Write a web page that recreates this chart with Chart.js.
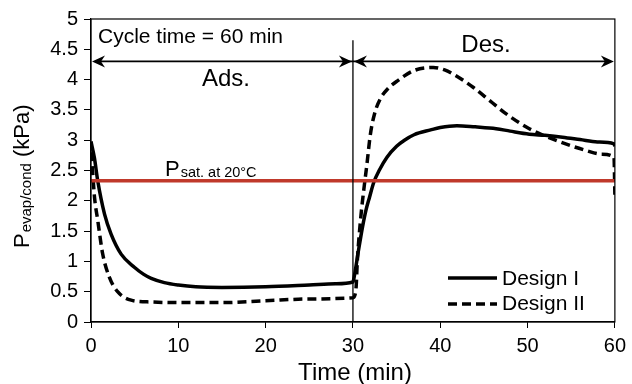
<!DOCTYPE html>
<html>
<head>
<meta charset="utf-8">
<script src="https://cdn.jsdelivr.net/npm/chart.js@4/dist/chart.umd.min.js"></script>
<style>
  html, body { margin: 0; padding: 0; background: #fff; }
  #wrap { width: 632px; height: 384px; }
</style>
</head>
<body>
<div id="wrap"><canvas id="c" width="632" height="384"></canvas></div>
<script>
// ================= DATA =================
const d1Time = [0, 0.4, 0.77, 1.55, 2.3, 3.45, 5, 6, 6.9, 8.4, 10, 12, 15, 20, 25, 28, 30,
  30.15, 30.6, 31.1, 31.5, 31.9, 32.4, 33, 33.9, 35, 35.9, 37, 38.9, 40, 41.9, 44, 46.4, 48, 50.2, 52, 54, 56, 58, 59.9, 60];
const d1Press = [2.98, 2.7, 2.33, 1.78, 1.45, 1.12, 0.9, 0.79, 0.72, 0.65, 0.61, 0.58, 0.57, 0.58, 0.61, 0.63, 0.66,
  0.75, 1.15, 1.57, 1.85, 2.06, 2.31, 2.5, 2.72, 2.9, 3.0, 3.09, 3.17, 3.21, 3.24, 3.22, 3.19, 3.15, 3.1, 3.08, 3.05, 3.01, 2.97, 2.94, 2.9];

const d2Time = [0, 0.2, 0.4, 0.77, 1.33, 2.1, 3.05, 4.6, 6.9, 10, 15, 20, 25, 30,
  30.35, 30.5, 30.9, 31.3, 31.6, 32, 32.5, 33.2, 34, 35.1, 37, 39.2, 40.5, 41.5, 43.8, 45.7, 47.6, 50.2, 53.2, 56.7, 58.5, 59.9, 60];
const d2Press = [2.8, 2.45, 2.06, 1.68, 1.13, 0.74, 0.5, 0.36, 0.33, 0.32, 0.32, 0.35, 0.38, 0.40,
  0.55, 1.0, 1.73, 2.25, 2.6, 3.1, 3.45, 3.7, 3.85, 3.98, 4.15, 4.2, 4.16, 4.09, 3.87, 3.65, 3.43, 3.19, 3.0, 2.83, 2.77, 2.72, 2.1];

const satTime = [0, 60];
const satPress = [2.33, 2.33];

const seriesNames = ["Design I", "Design II"];
const arrowY = 4.3;
const switchTime = 30;
const switchTop = 4.65;

const FONT = "'Liberation Sans', Arial, sans-serif";

function pts(xs, ys) { return xs.map((x, i) => ({ x: x, y: ys[i] })); }

// ================= ANNOTATIONS =================
function arrowHead(ctx, x, y, dir) {
  // dir = -1 pointing left, 1 pointing right
  ctx.beginPath();
  ctx.moveTo(x, y);
  ctx.lineTo(x - dir * 13, y - 6);
  ctx.lineTo(x - dir * 9, y);
  ctx.lineTo(x - dir * 13, y + 6);
  ctx.closePath();
  ctx.fill();
}

const annot = {
  id: "annot",
  afterDatasetsDraw(chart) {
    const ctx = chart.ctx, a = chart.chartArea;
    const xs = chart.scales.x, ys = chart.scales.y;
    ctx.save();
    ctx.strokeStyle = "#000";
    ctx.fillStyle = "#000";

    // frame
    ctx.lineWidth = 1.2;
    ctx.strokeRect(a.left, a.top, a.right - a.left, a.bottom - a.top);

    // ads / des switch line
    const xm = xs.getPixelForValue(switchTime);
    ctx.lineWidth = 1.3;
    ctx.beginPath();
    ctx.moveTo(xm, ys.getPixelForValue(switchTop));
    ctx.lineTo(xm, a.bottom);
    ctx.stroke();

    // arrows
    const ya = ys.getPixelForValue(arrowY);
    const x0 = xs.getPixelForValue(0), x1 = xs.getPixelForValue(60);
    ctx.lineWidth = 1.8;
    ctx.beginPath();
    ctx.moveTo(x0 + 4, ya); ctx.lineTo(x1 - 4, ya);
    ctx.stroke();
    arrowHead(ctx, x0 + 1, ya, -1);
    arrowHead(ctx, xm - 1, ya, 1);
    arrowHead(ctx, xm + 1, ya, -1);
    arrowHead(ctx, x1 - 1, ya, 1);

    // texts
    ctx.textBaseline = "alphabetic";
    ctx.textAlign = "left";
    ctx.font = "21px " + FONT;
    ctx.fillText("Cycle time = 60 min", 98, 43);
    ctx.textAlign = "center";
    ctx.font = "24px " + FONT;
    ctx.fillText("Ads.", 226, 86);
    ctx.fillText("Des.", 486, 52);

    // P sat label
    ctx.textAlign = "left";
    ctx.font = "22px " + FONT;
    ctx.fillText("P", 165, 176);
    const pw = ctx.measureText("P").width;
    ctx.font = "14.5px " + FONT;
    ctx.fillText("sat. at 20°C", 165 + pw + 1, 177);

    // legend
    const lx0 = 448, lx1 = 497;
    ctx.lineWidth = 3.5;
    ctx.beginPath(); ctx.moveTo(lx0, 278); ctx.lineTo(lx1, 278); ctx.stroke();
    ctx.setLineDash([9, 5]);
    ctx.beginPath(); ctx.moveTo(lx0, 304); ctx.lineTo(lx1, 304); ctx.stroke();
    ctx.setLineDash([]);
    ctx.font = "21px " + FONT;
    ctx.textBaseline = "middle";
    ctx.fillText(seriesNames[0], 502, 279);
    ctx.fillText(seriesNames[1], 502, 304);

    // x title
    ctx.textAlign = "center";
    ctx.textBaseline = "alphabetic";
    ctx.font = "24px " + FONT;
    ctx.fillText("Time (min)", 355, 380);

    // y title (rotated, with subscript)
    ctx.translate(29, 248);
    ctx.rotate(-Math.PI / 2);
    ctx.textAlign = "left";
    ctx.font = "22px " + FONT;
    ctx.fillText("P", 0, 0);
    let off = ctx.measureText("P").width + 1;
    ctx.font = "15px " + FONT;
    ctx.fillText("evap/cond", off, 2);
    off += ctx.measureText("evap/cond").width;
    ctx.font = "22px " + FONT;
    ctx.fillText(" (kPa)", off, 0);
    ctx.restore();
  }
};

// ================= CHART =================
new Chart(document.getElementById("c"), {
  type: "line",
  data: {
    datasets: [
      { label: "Psat", data: pts(satTime, satPress), borderColor: "rgb(192,57,43)", borderWidth: 3.5,
        pointRadius: 0, order: 0 },
      { label: seriesNames[0], data: pts(d1Time, d1Press), borderColor: "#000", borderWidth: 3.5,
        pointRadius: 0, cubicInterpolationMode: "monotone", order: 1 },
      { label: seriesNames[1], data: pts(d2Time, d2Press), borderColor: "#000", borderWidth: 3.5,
        borderDash: [9, 5], pointRadius: 0, cubicInterpolationMode: "monotone", order: 2 }
    ]
  },
  options: {
    responsive: false,
    animation: false,
    layout: { padding: { top: 19, right: 13, bottom: 0, left: 0 } },
    plugins: { legend: { display: false }, tooltip: { enabled: false } },
    scales: {
      x: {
        type: "linear", min: 0, max: 60,
        afterFit: s => { s.height = 62; },
        ticks: { stepSize: 10, maxRotation: 0, padding: 6, color: "#000", font: { family: FONT, size: 20 } },
        grid: { drawOnChartArea: false, tickLength: 6, color: "#000" },
        border: { color: "#000", width: 1.2 }
      },
      y: {
        min: 0, max: 5,
        afterFit: s => { s.width = 91; },
        ticks: { stepSize: 0.5, padding: 6, color: "#000", font: { family: FONT, size: 20 },
          callback: v => String(+v.toFixed(1)) },
        grid: { drawOnChartArea: false, tickLength: 7, color: "#000" },
        border: { color: "#000", width: 1.2 }
      }
    }
  },
  plugins: [annot]
});
</script>
</body>
</html>
